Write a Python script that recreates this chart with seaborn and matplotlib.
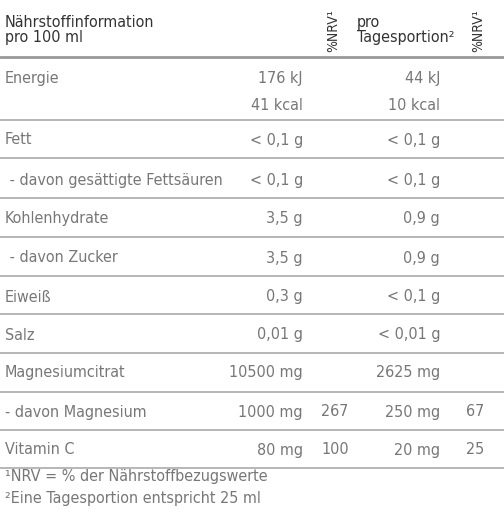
import matplotlib
matplotlib.use("Agg")
import matplotlib.pyplot as plt
import seaborn as sns

sns.set_theme(style="white")
plt.rcParams['font.family'] = ['DejaVu Sans']
plt.rcParams['font.stretch'] = 'condensed'

names = ["Energie", "", "Fett", " - davon gesättigte Fettsäuren", "Kohlenhydrate",
         " - davon Zucker", "Eiweiß", "Salz", "Magnesiumcitrat", "- davon Magnesium", "Vitamin C"]
per100 = ["176 kJ", "41 kcal", "< 0,1 g", "< 0,1 g", "3,5 g", "3,5 g", "0,3 g", "0,01 g",
          "10500 mg", "1000 mg", "80 mg"]
nrv100 = ["", "", "", "", "", "", "", "", "", "267", "100"]
portion = ["44 kJ", "10 kcal", "< 0,1 g", "< 0,1 g", "0,9 g", "0,9 g", "< 0,1 g", "< 0,01 g",
           "2625 mg", "250 mg", "20 mg"]
nrvport = ["", "", "", "", "", "", "", "", "", "67", "25"]
row_y = [78, 105, 140, 180, 219, 258, 297, 335, 373, 412, 450]
line_y = [120, 158, 198, 237, 276, 314, 353, 392, 430, 468]
footnotes = ["¹NRV = % der Nährstoffbezugswerte", "²Eine Tagesportion entspricht 25 ml"]

fig = plt.figure(figsize=(5.04, 5.12), dpi=100)
ax = fig.add_axes([0, 0, 1, 1])
ax.set_xlim(0, 504)
ax.set_ylim(512, 0)
ax.axis("off")

grey = "#777777"
dark = "#333333"
fs = 11.5

# header
ax.text(5, 30, "Nährstoffinformation\npro 100 ml", fontsize=fs, color=dark, va="center", linespacing=1.0)
ax.text(357, 30, "pro\nTagesportion²", fontsize=fs, color=dark, va="center", linespacing=1.0)
for x in [333, 478]:
    ax.text(x, 52, "%NRV¹", fontsize=10, color=dark, rotation=90, ha="center", va="bottom")
ax.axhline(57, color="#999999", lw=2)

for y in line_y:
    ax.axhline(y, color="#aaaaaa", lw=1.2)

for y, n, a, b, c, d in zip(row_y, names, per100, nrv100, portion, nrvport):
    ax.text(5, y, n, fontsize=fs, color=grey, va="center")
    ax.text(303, y, a, fontsize=fs, color=grey, va="center", ha="right")
    ax.text(335, y, b, fontsize=fs, color=grey, va="center", ha="center")
    ax.text(440, y, c, fontsize=fs, color=grey, va="center", ha="right")
    ax.text(475, y, d, fontsize=fs, color=grey, va="center", ha="center")

for i, f in enumerate(footnotes):
    ax.text(5, 476 + 22 * i, f, fontsize=fs, color=grey, va="center")

fig.savefig("out.png", dpi=100)
